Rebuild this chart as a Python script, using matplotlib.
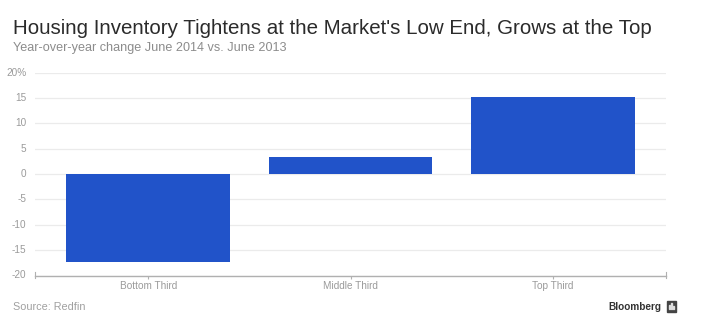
import matplotlib
matplotlib.use("Agg")
import matplotlib.pyplot as plt
import matplotlib.patches as mpatches

# data
categories = ["Bottom Third", "Middle Third", "Top Third"]
changes = [-17.3, 3.4, 15.2]
yticks = [-20, -15, -10, -5, 0, 5, 10, 15, 20]
ytick_labels = ["-20", "-15", "-10", "-5", "0", "5", "10", "15", "20%"]

plt.rcParams["font.family"] = ["Liberation Sans", "DejaVu Sans"]

fig = plt.figure(figsize=(7.01, 3.31), dpi=100)
ax = fig.add_axes([35 / 701, 1 - 275.5 / 331, (666 - 35) / 701, (275.5 - 72.7) / 331])

x = range(len(categories))
ax.bar(x, changes, width=0.81, color="#2153c9", zorder=3)

ax.set_xlim(-0.56, 2.56)
ax.set_ylim(-20, 20)
ax.set_yticks(yticks)
ax.set_yticklabels(ytick_labels)
ax.set_xticks(list(x))
ax.set_xticklabels(categories)

ax.grid(axis="y", color="#ebebeb", linewidth=0.9, zorder=0)
for s in ["top", "right", "left"]:
    ax.spines[s].set_visible(False)
ax.spines["bottom"].set_color("#b0b0b0")
ax.spines["bottom"].set_linewidth(1.0)
ax.tick_params(axis="y", length=0, pad=6, labelsize=7.2, labelcolor="#9a9a9a")
ax.tick_params(axis="x", length=2.5, width=0.8, color="#b0b0b0", pad=1.5,
               labelsize=7.2, labelcolor="#9a9a9a")
for lab in ax.get_yticklabels():
    lab.set_verticalalignment("center")

# end ticks on the axis line
for xe in (-0.56, 2.56):
    ax.plot([xe, xe], [-20.5, -19.4], color="#b0b0b0", lw=0.8, clip_on=False, zorder=4)

fig.text(13 / 701, 1 - 34 / 331,
         "Housing Inventory Tightens at the Market's Low End, Grows at the Top",
         fontsize=14.8, color="#2b2b2b", ha="left", va="baseline")
fig.text(13 / 701, 1 - 51 / 331, "Year-over-year change June 2014 vs. June 2013",
         fontsize=9.1, color="#8c8c8c", ha="left", va="baseline")
fig.text(13 / 701, 1 - 310 / 331, "Source: Redfin",
         fontsize=7.8, color="#a0a0a0", ha="left", va="baseline")
fig.text(661 / 701, 1 - 310 / 331, "Bloomberg",
         fontsize=7.2, color="#333333", fontweight="bold", ha="right", va="baseline")

# little logo box
fig.patches.append(mpatches.Rectangle((667 / 701, 1 - 312 / 331), 9 / 701, 11 / 331,
                                      transform=fig.transFigure, color="#444444"))
for i, h in enumerate([4, 6, 3]):
    fig.patches.append(mpatches.Rectangle(((669 + i * 2) / 701, 1 - 309 / 331), 1 / 701, h / 331,
                                          transform=fig.transFigure, color="#dddddd"))

fig.savefig("out.png", dpi=100)
